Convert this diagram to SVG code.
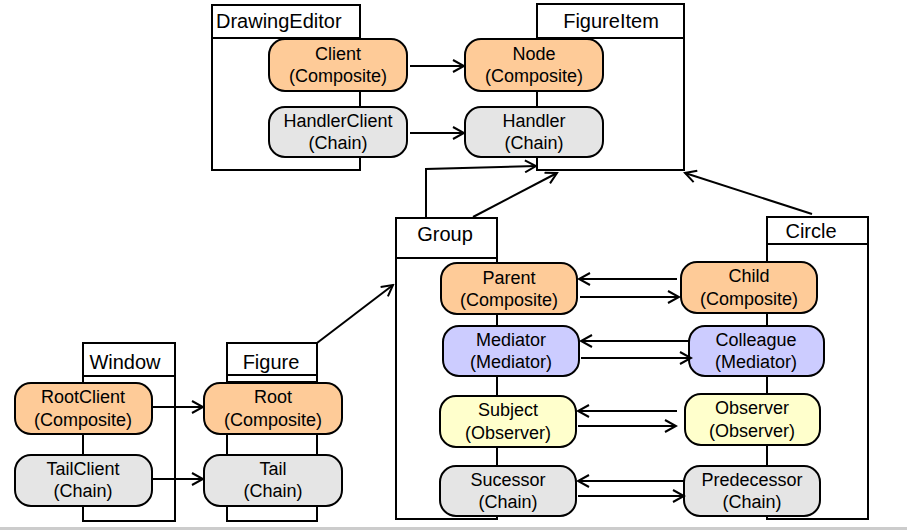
<svg xmlns="http://www.w3.org/2000/svg" width="907" height="530" viewBox="0 0 907 530">
<style>
.box{fill:#fff;stroke:#000;stroke-width:2}
.ln{fill:none;stroke:#000;stroke-width:2}
.nd{stroke:#000;stroke-width:2}
.or{fill:#FECB98}.gr{fill:#E5E5E5}.bl{fill:#CCCCFF}.ye{fill:#FFFFCC}
text{font-family:"Liberation Sans",Arial,sans-serif;fill:#000}
.h{font-size:20px}
.t{font-size:18px;text-anchor:middle}
.c{stroke:#000;stroke-width:2;fill:none;marker-end:url(#ah)}
</style>
<defs>
<marker id="ah" markerWidth="14" markerHeight="14" refX="12" refY="7" orient="auto" markerUnits="userSpaceOnUse">
<path d="M1,1 L12,7 L1,13" fill="none" stroke="#000" stroke-width="2"/>
</marker>
</defs>
<rect x="0" y="527" width="907" height="3" fill="#cccccc"/>

<g id="DrawingEditor">
<rect class="box" x="212" y="5" width="148" height="165"/>
<line class="ln" x1="212" y1="38" x2="360" y2="38"/>
<text class="h" x="216" y="28">DrawingEditor</text>
</g>
<g id="FigureItem">
<rect class="box" x="537" y="4" width="147" height="166"/>
<line class="ln" x1="537" y1="38" x2="684" y2="38"/>
<text class="h" x="611" y="28" text-anchor="middle">FigureItem</text>
</g>
<g id="Group">
<rect class="box" x="396" y="218" width="101" height="301"/>
<line class="ln" x1="396" y1="258" x2="497" y2="258"/>
<text class="h" x="445" y="241" text-anchor="middle">Group</text>
</g>
<g id="Circle">
<rect class="box" x="767" y="217" width="101" height="302"/>
<line class="ln" x1="767" y1="244" x2="868" y2="244"/>
<text class="h" x="811" y="238" text-anchor="middle">Circle</text>
</g>
<g id="Window">
<rect class="box" x="83" y="343" width="92" height="178"/>
<line class="ln" x1="83" y1="376" x2="175" y2="376"/>
<text class="h" x="125" y="369" text-anchor="middle">Window</text>
</g>
<g id="Figure">
<rect class="box" x="227" y="343" width="90" height="178"/>
<line class="ln" x1="227" y1="375" x2="317" y2="375"/>
<line class="ln" x1="227" y1="382" x2="317" y2="382"/>
<text class="h" x="271" y="369" text-anchor="middle">Figure</text>
</g>

<g id="Client"><rect class="nd or" x="269" y="39" width="138" height="52" rx="16"/><text class="t" x="338" y="60">Client</text><text class="t" x="338" y="82">(Composite)</text></g>
<g id="Node"><rect class="nd or" x="465" y="39" width="138" height="52" rx="16"/><text class="t" x="534" y="60">Node</text><text class="t" x="534" y="82">(Composite)</text></g>
<g id="HandlerClient"><rect class="nd gr" x="269" y="107" width="138" height="50" rx="16"/><text class="t" x="338" y="127">HandlerClient</text><text class="t" x="338" y="149">(Chain)</text></g>
<g id="Handler"><rect class="nd gr" x="465" y="107" width="138" height="50" rx="16"/><text class="t" x="534" y="127">Handler</text><text class="t" x="534" y="149">(Chain)</text></g>

<g id="Parent"><rect class="nd or" x="441" y="263" width="136" height="51" rx="16"/><text class="t" x="509" y="284">Parent</text><text class="t" x="509" y="306">(Composite)</text></g>
<g id="Child"><rect class="nd or" x="681" y="262" width="136" height="51" rx="16"/><text class="t" x="749" y="282">Child</text><text class="t" x="749" y="305">(Composite)</text></g>
<g id="Mediator"><rect class="nd bl" x="443" y="326" width="136" height="50" rx="16"/><text class="t" x="511" y="346">Mediator</text><text class="t" x="511" y="368">(Mediator)</text></g>
<g id="Colleague"><rect class="nd bl" x="689" y="326" width="135" height="50" rx="16"/><text class="t" x="756" y="346">Colleague</text><text class="t" x="756" y="368">(Mediator)</text></g>
<g id="Subject"><rect class="nd ye" x="440" y="396" width="136" height="51" rx="16"/><text class="t" x="508" y="416">Subject</text><text class="t" x="508" y="439">(Observer)</text></g>
<g id="Observer"><rect class="nd ye" x="685" y="394" width="135" height="51" rx="16"/><text class="t" x="752" y="414">Observer</text><text class="t" x="752" y="437">(Observer)</text></g>
<g id="Sucessor"><rect class="nd gr" x="440" y="466" width="136" height="50" rx="16"/><text class="t" x="508" y="486">Sucessor</text><text class="t" x="508" y="508">(Chain)</text></g>
<g id="Predecessor"><rect class="nd gr" x="684" y="466" width="136" height="50" rx="16"/><text class="t" x="752" y="486">Predecessor</text><text class="t" x="752" y="508">(Chain)</text></g>

<g id="RootClient"><rect class="nd or" x="15" y="383" width="137" height="51" rx="16"/><text class="t" x="83" y="403">RootClient</text><text class="t" x="83" y="426">(Composite)</text></g>
<g id="Root"><rect class="nd or" x="204" y="383" width="138" height="51" rx="16"/><text class="t" x="273" y="403">Root</text><text class="t" x="273" y="426">(Composite)</text></g>
<g id="TailClient"><rect class="nd gr" x="15" y="455" width="137" height="51" rx="16"/><text class="t" x="83" y="475">TailClient</text><text class="t" x="83" y="497">(Chain)</text></g>
<g id="Tail"><rect class="nd gr" x="204" y="455" width="138" height="51" rx="16"/><text class="t" x="273" y="475">Tail</text><text class="t" x="273" y="497">(Chain)</text></g>

<g id="connectors">
<line class="c" x1="410" y1="66" x2="464" y2="66"/>
<line class="c" x1="410" y1="133" x2="464" y2="133"/>
<polyline class="c" points="426,218 426,169 536,166"/>
<line class="c" x1="473" y1="217" x2="557" y2="173"/>
<line class="c" x1="812" y1="214" x2="685" y2="173"/>
<line class="c" x1="317" y1="343" x2="393" y2="285"/>
<line class="c" x1="677" y1="279" x2="579" y2="279"/>
<line class="c" x1="580" y1="297" x2="679" y2="297"/>
<line class="c" x1="689" y1="341" x2="581" y2="341"/>
<line class="c" x1="581" y1="358" x2="691" y2="358"/>
<line class="c" x1="677" y1="411" x2="578" y2="411"/>
<line class="c" x1="578" y1="426" x2="676" y2="426"/>
<line class="c" x1="684" y1="481" x2="578" y2="481"/>
<line class="c" x1="578" y1="496" x2="684" y2="496"/>
<line class="c" x1="152" y1="407" x2="203" y2="407"/>
<line class="c" x1="152" y1="479" x2="203" y2="479"/>
</g>
</svg>
